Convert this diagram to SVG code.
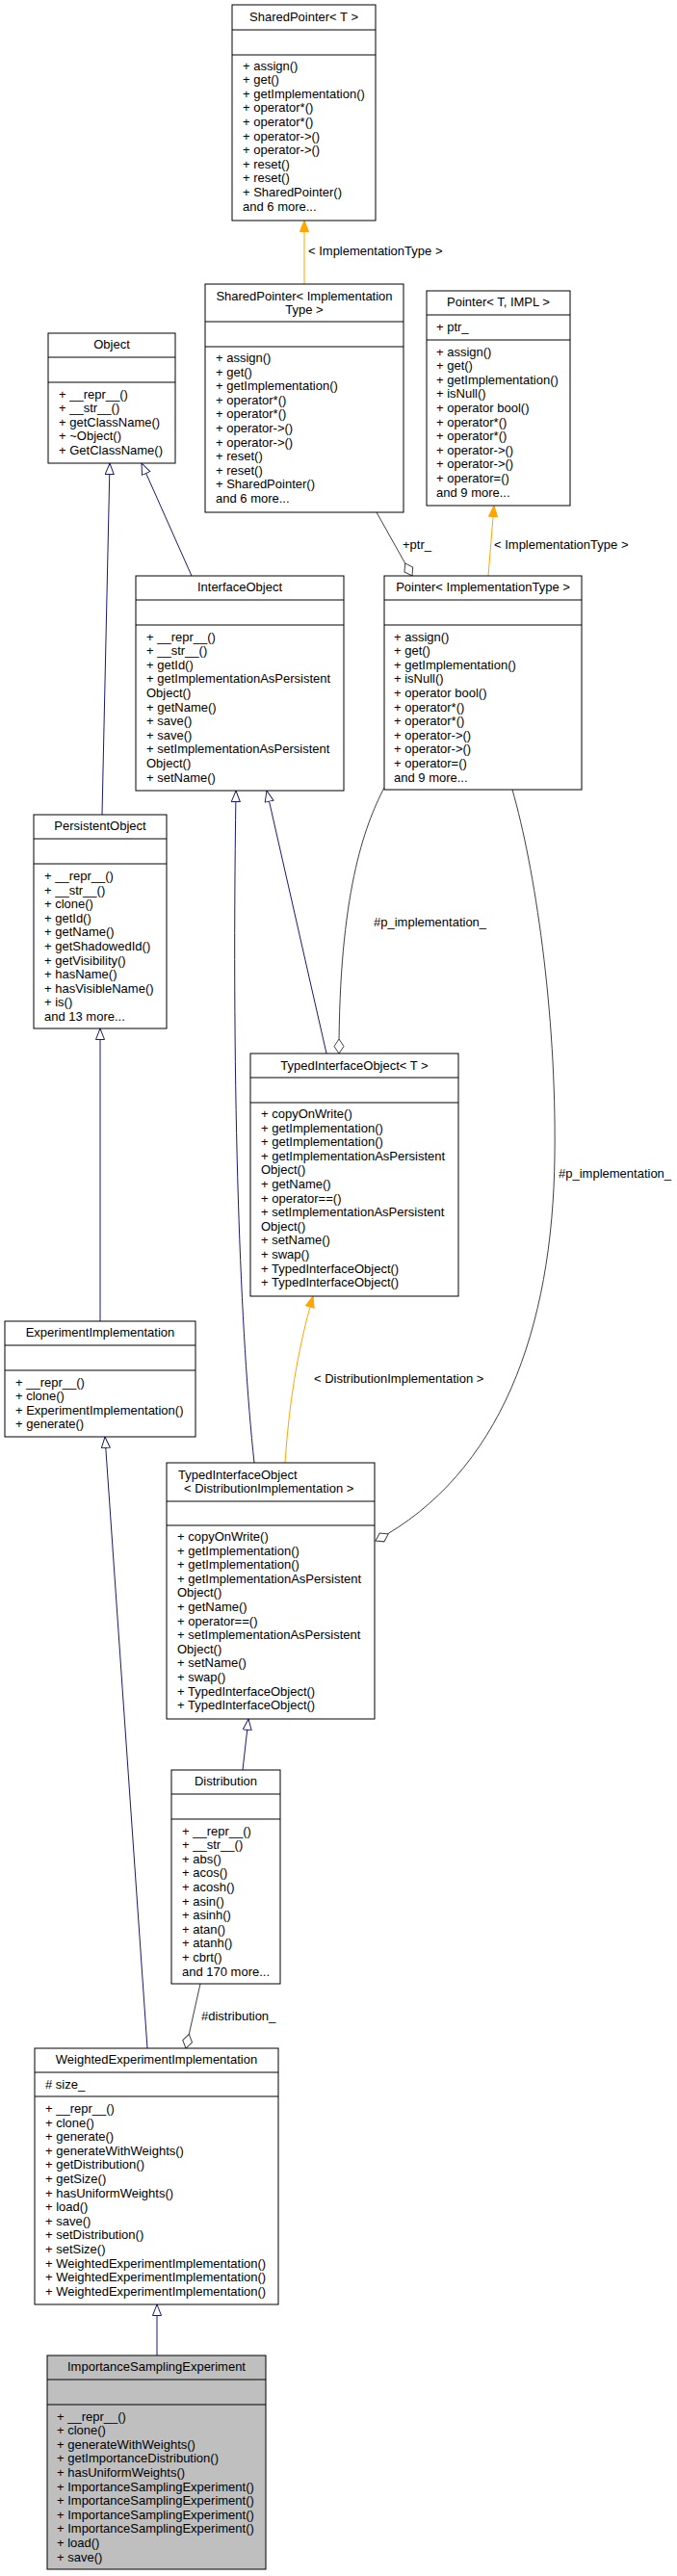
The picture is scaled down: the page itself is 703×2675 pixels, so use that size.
<svg xmlns="http://www.w3.org/2000/svg" width="703" height="2675" viewBox="0 0 703 2675">
<style>
.box{fill:#ffffff;stroke:#000000;stroke-width:1}
.sep{stroke:#000000;stroke-width:1}
.gray{fill:#bfbfbf}
text{font-family:"Liberation Sans",Arial,Helvetica,sans-serif;font-size:13px;fill:#000000}
.c{text-anchor:middle}
.inh{fill:none;stroke:#191970;stroke-width:1}
.tpl{fill:none;stroke:#ffa500;stroke-width:1}
.use{fill:none;stroke:#404040;stroke-width:1}
</style>
<defs>
<marker id="mInh" markerUnits="userSpaceOnUse" markerWidth="14" markerHeight="12" refX="12" refY="5" orient="auto">
<path d="M0.5,0.5 L12,5 L0.5,9.5 z" fill="#ffffff" stroke="#191970" stroke-width="1"/>
</marker>
<marker id="mTpl" markerUnits="userSpaceOnUse" markerWidth="14" markerHeight="12" refX="12" refY="5" orient="auto">
<path d="M0.5,0.5 L12,5 L0.5,9.5 z" fill="#ffa500" stroke="#ffa500" stroke-width="1"/>
</marker>
<marker id="mAgg" markerUnits="userSpaceOnUse" markerWidth="17" markerHeight="12" refX="15.5" refY="5.5" orient="auto">
<path d="M0.5,5.5 L8,0.5 L15.5,5.5 L8,10.5 z" fill="#ffffff" stroke="#404040" stroke-width="1"/>
</marker>
</defs>

<g id="connectors">
<path class="tpl" d="M316,295 L316,229" marker-end="url(#mTpl)"/>
<text x="320" y="265">&lt; ImplementationType &gt;</text>
<path class="use" d="M391,532 L428,598" marker-end="url(#mAgg)"/>
<text x="418" y="569.5">+ptr_</text>
<path class="tpl" d="M507,598 L513,525" marker-end="url(#mTpl)"/>
<text x="513" y="569.5">&lt; ImplementationType &gt;</text>
<path class="inh" d="M106,846 L114,481" marker-end="url(#mInh)"/>
<path class="inh" d="M199,598 L147,481" marker-end="url(#mInh)"/>
<path class="inh" d="M104,1372 L104,1068" marker-end="url(#mInh)"/>
<path class="inh" d="M339,1094 L277,821" marker-end="url(#mInh)"/>
<path class="inh" d="M264,1519 C250,1390 240,1150 245,821" marker-end="url(#mInh)"/>
<path class="use" d="M399,818 C378,858 352,930 352,1094" marker-end="url(#mAgg)"/>
<text x="388" y="961.5">#p_implementation_</text>
<path class="use" d="M532,820 C555,900 578,1050 576,1200 C574,1380 520,1530 390,1600" marker-end="url(#mAgg)"/>
<text x="580" y="1223">#p_implementation_</text>
<path class="tpl" d="M296,1519 C300,1460 308,1405 325,1346" marker-end="url(#mTpl)"/>
<text x="326" y="1435.5">&lt; DistributionImplementation &gt;</text>
<path class="inh" d="M252,1838 L258,1785" marker-end="url(#mInh)"/>
<path class="inh" d="M153,2127 L109,1492" marker-end="url(#mInh)"/>
<path class="use" d="M208,2060 L193,2127" marker-end="url(#mAgg)"/>
<text x="209" y="2097.5">#distribution_</text>
<path class="inh" d="M163,2446 L163,2393" marker-end="url(#mInh)"/>
</g>

<g id="SharedPointer_T">
<rect class="box" x="241" y="5" width="149" height="224"/>
<line class="sep" x1="241" y1="31" x2="390" y2="31"/>
<line class="sep" x1="241" y1="57" x2="390" y2="57"/>
<text class="c" x="315.5" y="22">SharedPointer&lt; T &gt;</text>
<text x="252" y="72.5">+ assign()</text>
<text x="252" y="87.1">+ get()</text>
<text x="252" y="101.7">+ getImplementation()</text>
<text x="252" y="116.3">+ operator*()</text>
<text x="252" y="130.9">+ operator*()</text>
<text x="252" y="145.5">+ operator-&gt;()</text>
<text x="252" y="160.1">+ operator-&gt;()</text>
<text x="252" y="174.7">+ reset()</text>
<text x="252" y="189.3">+ reset()</text>
<text x="252" y="203.9">+ SharedPointer()</text>
<text x="252" y="218.5">and 6 more...</text>
</g>

<g id="SharedPointer_ImplementationType">
<rect class="box" x="213" y="295" width="206" height="237"/>
<line class="sep" x1="213" y1="334" x2="419" y2="334"/>
<line class="sep" x1="213" y1="360" x2="419" y2="360"/>
<text class="c" x="316" y="311.5">SharedPointer&lt; Implementation</text>
<text class="c" x="316" y="325.5">Type &gt;</text>
<text x="224" y="376">+ assign()</text>
<text x="224" y="390.6">+ get()</text>
<text x="224" y="405.2">+ getImplementation()</text>
<text x="224" y="419.8">+ operator*()</text>
<text x="224" y="434.4">+ operator*()</text>
<text x="224" y="449">+ operator-&gt;()</text>
<text x="224" y="463.6">+ operator-&gt;()</text>
<text x="224" y="478.2">+ reset()</text>
<text x="224" y="492.8">+ reset()</text>
<text x="224" y="507.4">+ SharedPointer()</text>
<text x="224" y="522">and 6 more...</text>
</g>

<g id="Pointer_T_IMPL">
<rect class="box" x="443" y="302" width="149" height="223"/>
<line class="sep" x1="443" y1="327" x2="592" y2="327"/>
<line class="sep" x1="443" y1="353" x2="592" y2="353"/>
<text class="c" x="517.5" y="318">Pointer&lt; T, IMPL &gt;</text>
<text x="453" y="343.5">+ ptr_</text>
<text x="453" y="369.5">+ assign()</text>
<text x="453" y="384.1">+ get()</text>
<text x="453" y="398.7">+ getImplementation()</text>
<text x="453" y="413.3">+ isNull()</text>
<text x="453" y="427.9">+ operator bool()</text>
<text x="453" y="442.5">+ operator*()</text>
<text x="453" y="457.1">+ operator*()</text>
<text x="453" y="471.7">+ operator-&gt;()</text>
<text x="453" y="486.3">+ operator-&gt;()</text>
<text x="453" y="500.9">+ operator=()</text>
<text x="453" y="515.5">and 9 more...</text>
</g>

<g id="Object">
<rect class="box" x="50" y="346" width="132" height="135"/>
<line class="sep" x1="50" y1="371" x2="182" y2="371"/>
<line class="sep" x1="50" y1="397" x2="182" y2="397"/>
<text class="c" x="116" y="362">Object</text>
<text x="61" y="413.5">+ __repr__()</text>
<text x="61" y="428.1">+ __str__()</text>
<text x="61" y="442.7">+ getClassName()</text>
<text x="61" y="457.3">+ ~Object()</text>
<text x="61" y="471.9">+ GetClassName()</text>
</g>

<g id="InterfaceObject">
<rect class="box" x="141" y="598" width="216" height="223"/>
<line class="sep" x1="141" y1="623" x2="357" y2="623"/>
<line class="sep" x1="141" y1="649" x2="357" y2="649"/>
<text class="c" x="249" y="614">InterfaceObject</text>
<text x="152" y="665.5">+ __repr__()</text>
<text x="152" y="680.1">+ __str__()</text>
<text x="152" y="694.7">+ getId()</text>
<text x="152" y="709.3">+ getImplementationAsPersistent</text>
<text x="152" y="723.9">Object()</text>
<text x="152" y="738.5">+ getName()</text>
<text x="152" y="753.1">+ save()</text>
<text x="152" y="767.7">+ save()</text>
<text x="152" y="782.3">+ setImplementationAsPersistent</text>
<text x="152" y="796.9">Object()</text>
<text x="152" y="811.5">+ setName()</text>
</g>

<g id="Pointer_ImplementationType">
<rect class="box" x="399" y="598" width="205" height="222"/>
<line class="sep" x1="399" y1="623" x2="604" y2="623"/>
<line class="sep" x1="399" y1="649" x2="604" y2="649"/>
<text class="c" x="501.5" y="614">Pointer&lt; ImplementationType &gt;</text>
<text x="409" y="665.5">+ assign()</text>
<text x="409" y="680.1">+ get()</text>
<text x="409" y="694.7">+ getImplementation()</text>
<text x="409" y="709.3">+ isNull()</text>
<text x="409" y="723.9">+ operator bool()</text>
<text x="409" y="738.5">+ operator*()</text>
<text x="409" y="753.1">+ operator*()</text>
<text x="409" y="767.7">+ operator-&gt;()</text>
<text x="409" y="782.3">+ operator-&gt;()</text>
<text x="409" y="796.9">+ operator=()</text>
<text x="409" y="811.5">and 9 more...</text>
</g>

<g id="PersistentObject">
<rect class="box" x="35" y="846" width="138" height="222"/>
<line class="sep" x1="35" y1="871" x2="173" y2="871"/>
<line class="sep" x1="35" y1="897" x2="173" y2="897"/>
<text class="c" x="104" y="862">PersistentObject</text>
<text x="46" y="914">+ __repr__()</text>
<text x="46" y="928.6">+ __str__()</text>
<text x="46" y="943.2">+ clone()</text>
<text x="46" y="957.8">+ getId()</text>
<text x="46" y="972.4">+ getName()</text>
<text x="46" y="987">+ getShadowedId()</text>
<text x="46" y="1001.6">+ getVisibility()</text>
<text x="46" y="1016.2">+ hasName()</text>
<text x="46" y="1030.8">+ hasVisibleName()</text>
<text x="46" y="1045.4">+ is()</text>
<text x="46" y="1059.5">and 13 more...</text>
</g>

<g id="TypedInterfaceObject_T">
<rect class="box" x="260" y="1094" width="216" height="252"/>
<line class="sep" x1="260" y1="1119" x2="476" y2="1119"/>
<line class="sep" x1="260" y1="1145" x2="476" y2="1145"/>
<text class="c" x="368" y="1110.5">TypedInterfaceObject&lt; T &gt;</text>
<text x="271" y="1161">+ copyOnWrite()</text>
<text x="271" y="1175.6">+ getImplementation()</text>
<text x="271" y="1190.2">+ getImplementation()</text>
<text x="271" y="1204.8">+ getImplementationAsPersistent</text>
<text x="271" y="1219.4">Object()</text>
<text x="271" y="1234">+ getName()</text>
<text x="271" y="1248.6">+ operator==()</text>
<text x="271" y="1263.2">+ setImplementationAsPersistent</text>
<text x="271" y="1277.8">Object()</text>
<text x="271" y="1292.4">+ setName()</text>
<text x="271" y="1307">+ swap()</text>
<text x="271" y="1321.6">+ TypedInterfaceObject()</text>
<text x="271" y="1336.2">+ TypedInterfaceObject()</text>
</g>

<g id="ExperimentImplementation">
<rect class="box" x="5" y="1372" width="198" height="120"/>
<line class="sep" x1="5" y1="1397" x2="203" y2="1397"/>
<line class="sep" x1="5" y1="1423" x2="203" y2="1423"/>
<text class="c" x="104" y="1388">ExperimentImplementation</text>
<text x="16" y="1439.5">+ __repr__()</text>
<text x="16" y="1454.1">+ clone()</text>
<text x="16" y="1468.7">+ ExperimentImplementation()</text>
<text x="16" y="1483.3">+ generate()</text>
</g>

<g id="TypedInterfaceObject_DistributionImplementation">
<rect class="box" x="173" y="1519" width="216" height="266"/>
<line class="sep" x1="173" y1="1559" x2="389" y2="1559"/>
<line class="sep" x1="173" y1="1584" x2="389" y2="1584"/>
<text x="185" y="1535.5">TypedInterfaceObject</text>
<text x="191" y="1549.5">&lt; DistributionImplementation &gt;</text>
<text x="184" y="1600">+ copyOnWrite()</text>
<text x="184" y="1614.6">+ getImplementation()</text>
<text x="184" y="1629.2">+ getImplementation()</text>
<text x="184" y="1643.8">+ getImplementationAsPersistent</text>
<text x="184" y="1658.4">Object()</text>
<text x="184" y="1673">+ getName()</text>
<text x="184" y="1687.6">+ operator==()</text>
<text x="184" y="1702.2">+ setImplementationAsPersistent</text>
<text x="184" y="1716.8">Object()</text>
<text x="184" y="1731.4">+ setName()</text>
<text x="184" y="1746">+ swap()</text>
<text x="184" y="1760.6">+ TypedInterfaceObject()</text>
<text x="184" y="1775.2">+ TypedInterfaceObject()</text>
</g>

<g id="Distribution">
<rect class="box" x="178" y="1838" width="113" height="222"/>
<line class="sep" x1="178" y1="1863" x2="291" y2="1863"/>
<line class="sep" x1="178" y1="1889" x2="291" y2="1889"/>
<text class="c" x="234.5" y="1854">Distribution</text>
<text x="189" y="1905.5">+ __repr__()</text>
<text x="189" y="1920.1">+ __str__()</text>
<text x="189" y="1934.7">+ abs()</text>
<text x="189" y="1949.3">+ acos()</text>
<text x="189" y="1963.9">+ acosh()</text>
<text x="189" y="1978.5">+ asin()</text>
<text x="189" y="1993.1">+ asinh()</text>
<text x="189" y="2007.7">+ atan()</text>
<text x="189" y="2022.3">+ atanh()</text>
<text x="189" y="2036.9">+ cbrt()</text>
<text x="189" y="2051.5">and 170 more...</text>
</g>

<g id="WeightedExperimentImplementation">
<rect class="box" x="36" y="2127" width="253" height="266"/>
<line class="sep" x1="36" y1="2152" x2="289" y2="2152"/>
<line class="sep" x1="36" y1="2177" x2="289" y2="2177"/>
<text class="c" x="162.5" y="2143">WeightedExperimentImplementation</text>
<text x="47" y="2168.5"># size_</text>
<text x="47" y="2194">+ __repr__()</text>
<text x="47" y="2208.6">+ clone()</text>
<text x="47" y="2223.2">+ generate()</text>
<text x="47" y="2237.8">+ generateWithWeights()</text>
<text x="47" y="2252.4">+ getDistribution()</text>
<text x="47" y="2267">+ getSize()</text>
<text x="47" y="2281.6">+ hasUniformWeights()</text>
<text x="47" y="2296.2">+ load()</text>
<text x="47" y="2310.8">+ save()</text>
<text x="47" y="2325.4">+ setDistribution()</text>
<text x="47" y="2340">+ setSize()</text>
<text x="47" y="2354.6">+ WeightedExperimentImplementation()</text>
<text x="47" y="2369.2">+ WeightedExperimentImplementation()</text>
<text x="47" y="2383.8">+ WeightedExperimentImplementation()</text>
</g>

<g id="ImportanceSamplingExperiment">
<rect class="box gray" x="49" y="2446" width="227" height="222"/>
<line class="sep" x1="49" y1="2471" x2="276" y2="2471"/>
<line class="sep" x1="49" y1="2497" x2="276" y2="2497"/>
<text class="c" x="162.5" y="2462">ImportanceSamplingExperiment</text>
<text x="59" y="2513.5">+ __repr__()</text>
<text x="59" y="2528.1">+ clone()</text>
<text x="59" y="2542.7">+ generateWithWeights()</text>
<text x="59" y="2557.3">+ getImportanceDistribution()</text>
<text x="59" y="2571.9">+ hasUniformWeights()</text>
<text x="59" y="2586.5">+ ImportanceSamplingExperiment()</text>
<text x="59" y="2601.1">+ ImportanceSamplingExperiment()</text>
<text x="59" y="2615.7">+ ImportanceSamplingExperiment()</text>
<text x="59" y="2630.3">+ ImportanceSamplingExperiment()</text>
<text x="59" y="2644.9">+ load()</text>
<text x="59" y="2659.5">+ save()</text>
</g>
</svg>
